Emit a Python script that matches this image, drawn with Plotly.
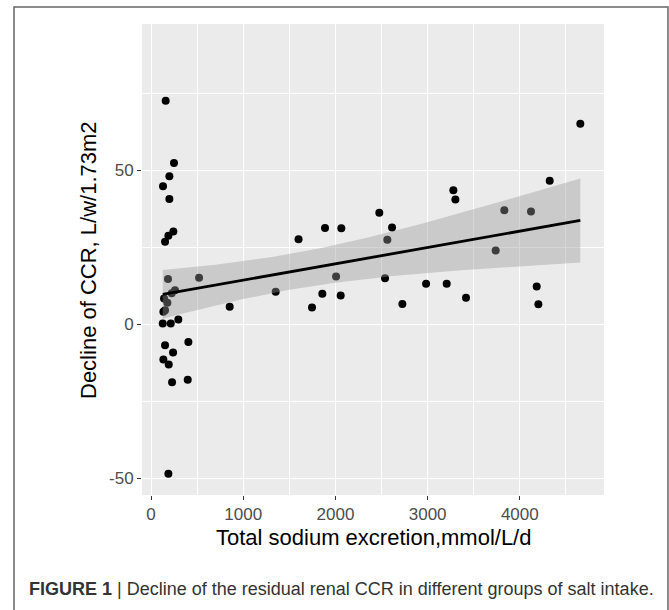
import numpy as np
import plotly.graph_objects as go

# Data
sodium = [159, 249, 199, 130, 199, 242, 188, 152, 1600, 184, 521, 1352, 853, 260, 224,
          141, 177, 152, 134, 127, 214, 296, 405, 152, 239, 134, 192, 398, 228, 188,
          1887, 2064, 2614, 2563, 2007, 2538, 1858, 2057, 1746, 2726, 2983, 3207, 3416,
          2476, 3279, 3301, 4656, 4324, 3832, 4121, 3738, 4183, 4201]
ccr_decline = [72.5, 52.3, 48.0, 44.7, 40.6, 30.0, 28.7, 26.7, 27.5, 14.6, 15.0, 10.5, 5.6, 11.0, 10.0,
               8.3, 6.9, 4.5, 4.0, 0.2, 0.2, 1.5, -5.8, -6.9, -9.2, -11.5, -13.1, -18.1, -18.9, -48.6,
               31.2, 31.1, 31.3, 27.4, 15.4, 14.9, 9.8, 9.3, 5.4, 6.5, 13.1, 13.1, 8.5,
               36.1, 43.4, 40.4, 65.0, 46.5, 36.9, 36.5, 23.9, 12.2, 6.4]
x_ticks = [0, 1000, 2000, 3000, 4000]
x_tick_labels = ["0", "1000", "2000", "3000", "4000"]
y_ticks = [-50, 0, 50]
y_tick_labels = ["-50", "0", "50"]

x = np.array(sodium, float)
y = np.array(ccr_decline, float)
n = len(x)

# linear model with 95% confidence band (like geom_smooth(method="lm"))
b1, b0 = np.polyfit(x, y, 1)
resid = y - (b0 + b1 * x)
df = n - 2
s = np.sqrt(np.sum(resid ** 2) / df)
z = 1.959964
tq = z + (z ** 3 + z) / (4 * df) + (5 * z ** 5 + 16 * z ** 3 + 3 * z) / (96 * df ** 2)
xs = np.linspace(x.min(), x.max(), 80)
fit = b0 + b1 * xs
se = s * np.sqrt(1 / n + (xs - x.mean()) ** 2 / np.sum((x - x.mean()) ** 2))
lo, hi = fit - tq * se, fit + tq * se

fig = go.Figure()
fig.add_trace(go.Scatter(x=x, y=y, mode="markers",
                         marker=dict(color="black", size=8, line=dict(width=0)),
                         showlegend=False, hoverinfo="skip"))
fig.add_trace(go.Scatter(x=np.concatenate([xs, xs[::-1]]), y=np.concatenate([hi, lo[::-1]]),
                         mode="lines", fill="toself", fillcolor="rgba(153,153,153,0.4)",
                         line=dict(width=0), showlegend=False, hoverinfo="skip"))
fig.add_trace(go.Scatter(x=xs, y=fit, mode="lines", line=dict(color="black", width=2.8),
                         showlegend=False, hoverinfo="skip"))

L, R, T, B = 142, 604, 24, 495
W, H = 669, 610
pw, ph = R - L, B - T


def px(v):
    return (v - L) / pw


def py(v):
    return (B - v) / ph


tickfont = dict(family="Liberation Sans, Arial, sans-serif", size=17, color="#4D4D4D")
fig.update_layout(
    width=W, height=H,
    margin=dict(l=L, r=W - R, t=T, b=H - B, pad=0),
    paper_bgcolor="white", plot_bgcolor="#EBEBEB",
    font=dict(family="Liberation Sans, Arial, sans-serif"),
    xaxis=dict(range=[-98, 4913], tickvals=x_ticks, ticktext=x_tick_labels,
               ticks="outside", ticklen=4,
               tickcolor="#333333", tickwidth=1.1, tickfont=tickfont,
               showgrid=True, gridcolor="white", gridwidth=1.3, zeroline=False,
               showline=False,
               minor=dict(dtick=500, tick0=500, showgrid=True, gridcolor="white",
                          gridwidth=0.6, ticks="")),
    yaxis=dict(range=[-55.5, 97.4], tickvals=y_ticks, ticktext=y_tick_labels,
               ticks="outside", ticklen=4,
               tickcolor="#333333", tickwidth=1.1, tickfont=tickfont,
               showgrid=True, gridcolor="white", gridwidth=1.3, zeroline=False,
               showline=False,
               minor=dict(dtick=25, tick0=25, showgrid=True, gridcolor="white",
                          gridwidth=0.6, ticks="")),
    annotations=[
        dict(text="Total sodium excretion,mmol/L/d", xref="paper", yref="paper",
             x=px(373), y=py(537), showarrow=False, xanchor="center", yanchor="middle",
             font=dict(size=22, color="black")),
        dict(text="Decline of CCR, L/w/1.73m2", xref="paper", yref="paper",
             x=px(88), y=py(260), showarrow=False, xanchor="center", yanchor="middle",
             textangle=-90, font=dict(size=22, color="black")),
        dict(text="<b>FIGURE 1</b> | Decline of the residual renal CCR in different groups of salt intake.",
             xref="paper", yref="paper", x=px(27), y=py(589), showarrow=False,
             xanchor="left", yanchor="middle", font=dict(size=18, color="#333333")),
    ],
    shapes=[dict(type="rect", xref="paper", yref="paper", x0=px(14), x1=px(668),
                 y0=py(612), y1=py(7), line=dict(color="#666666", width=1.5),
                 fillcolor="rgba(0,0,0,0)", layer="below")],
)

fig.write_html("out.html", config={"displayModeBar": False},
               post_script="document.body.style.margin='0';document.body.style.overflow='hidden';")
